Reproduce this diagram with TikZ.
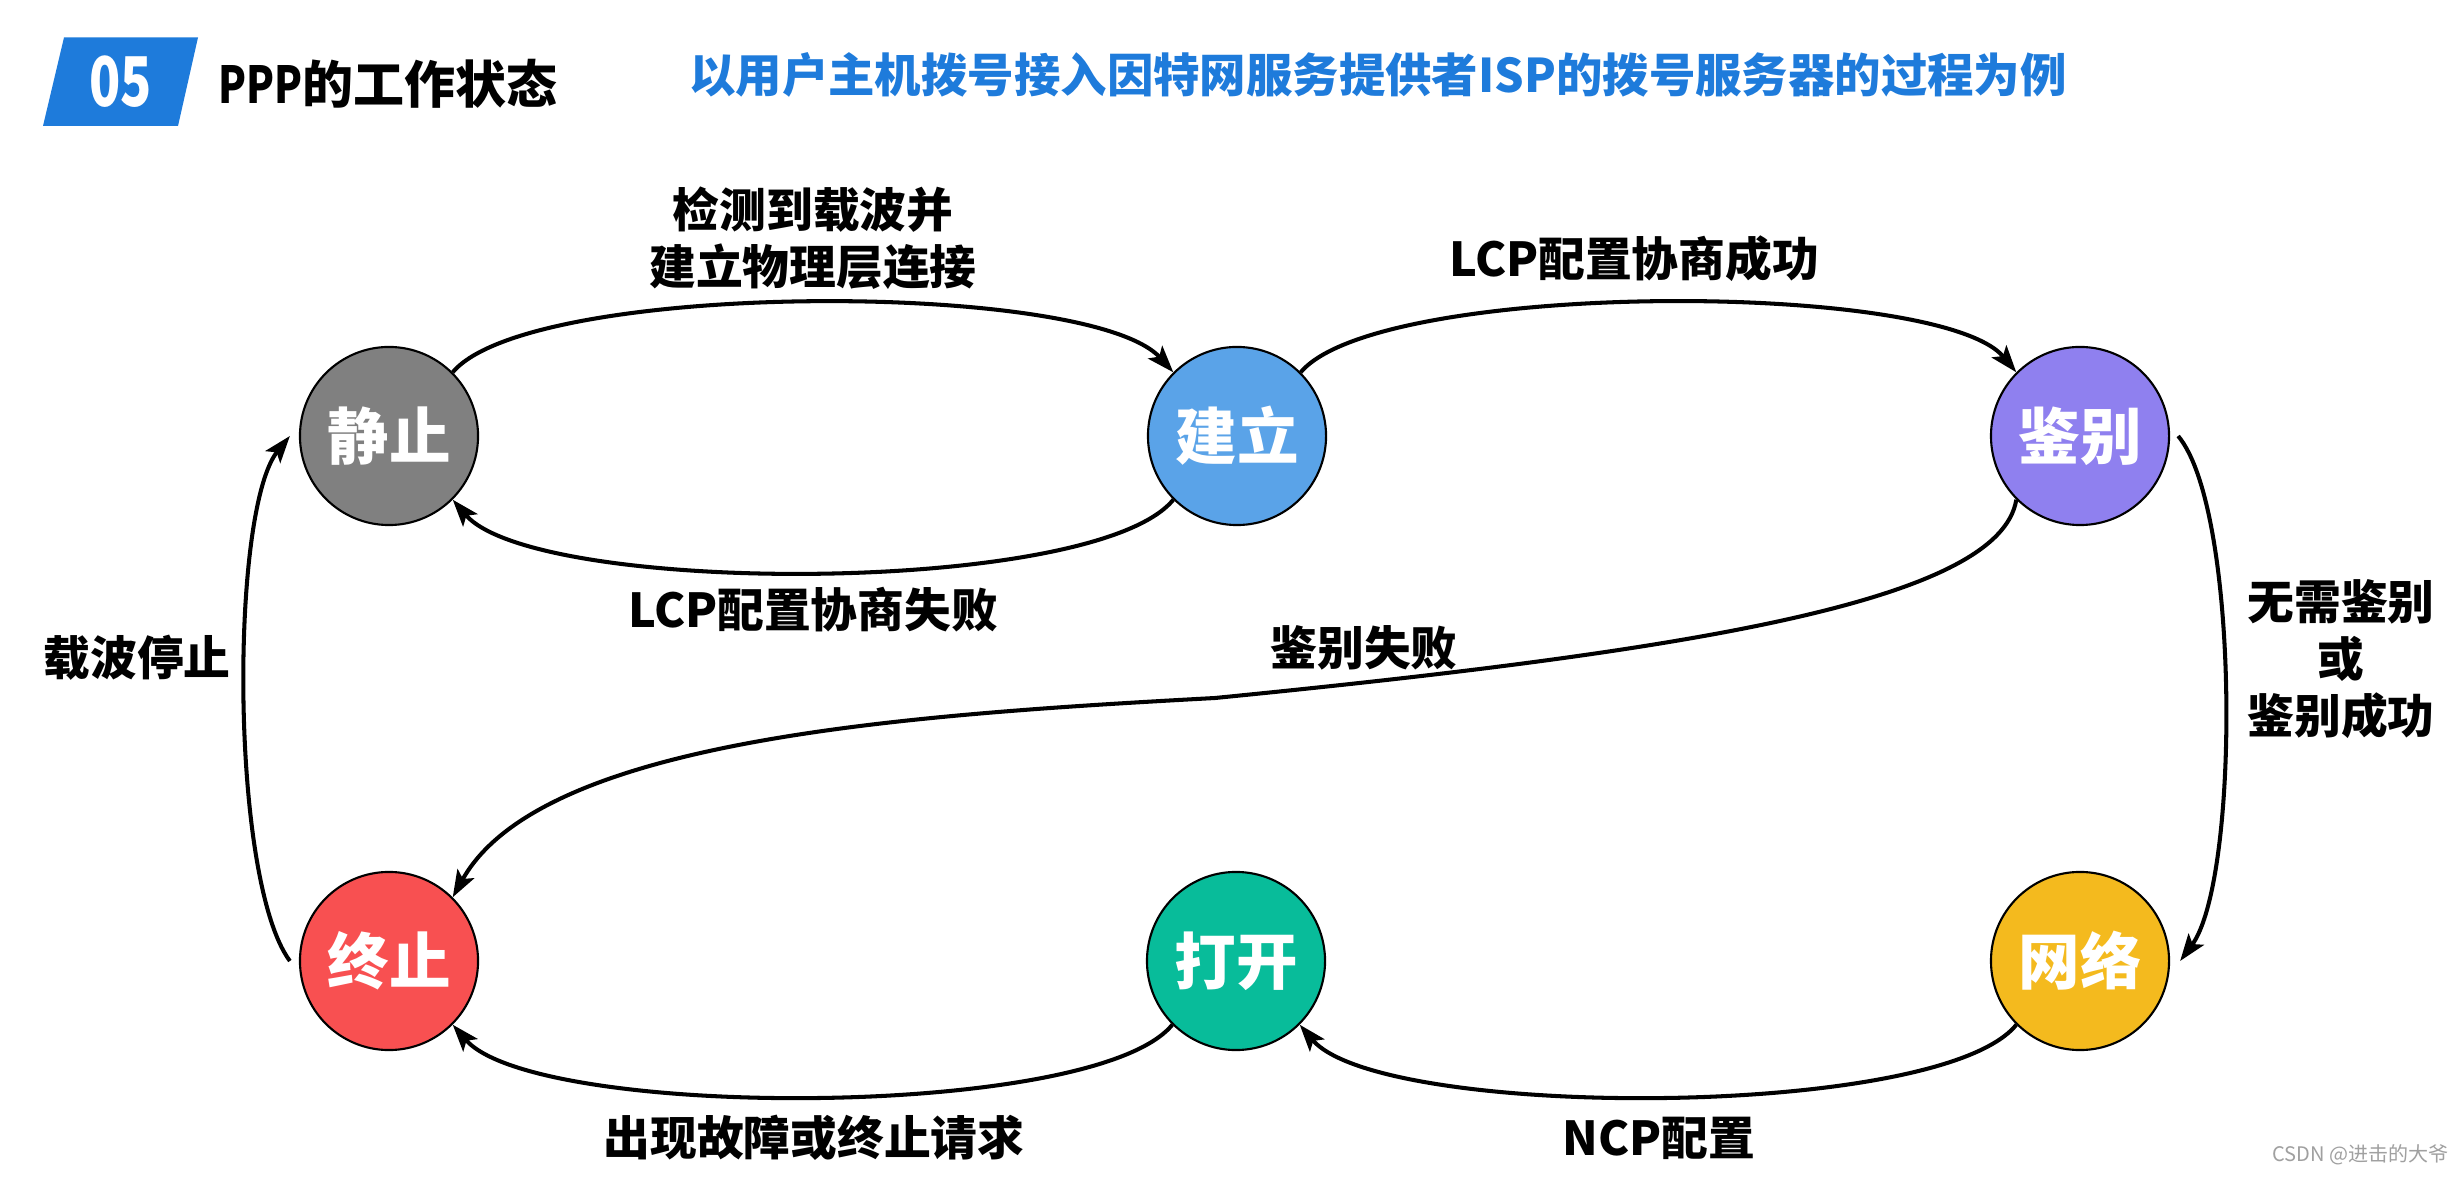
\documentclass[tikz,border=0pt]{standalone}
\usepackage{fontspec}
\setmainfont{Noto Sans CJK SC}
\usetikzlibrary{arrows.meta}
\definecolor{hdrblue}{HTML}{1E7BDB}
\definecolor{cgray}{HTML}{808080}
\definecolor{cblue}{HTML}{5AA3E8}
\definecolor{cpurple}{HTML}{8F80EF}
\definecolor{cred}{HTML}{F85051}
\definecolor{cteal}{HTML}{08BC9A}
\definecolor{cyellow}{HTML}{F4BA1E}
\definecolor{wmgray}{HTML}{A0A0A0}
\begin{document}
\begin{tikzpicture}[x=0.01cm,y=-0.01cm,
  state/.style={circle, draw=black, line width=0.6pt, minimum size=1.78cm, inner sep=0pt,
    text=white, font=\fontsize{17.5}{20}\selectfont\bfseries},
  lab/.style={font=\fontsize{13.3}{16.2}\selectfont\bfseries, align=center, inner sep=0pt},
  arr/.style={line width=1.15pt, -{Stealth[length=0.27cm,width=0.19cm,inset=0.06cm]}}]
\useasboundingbox (0,0) rectangle (2464,1183);
\fill[white] (0,0) rectangle (2464,1183);

% header
\fill[hdrblue] (64,37.5) -- (198,37.5) -- (178,126) -- (43,126) -- cycle;
\node[text=white, inner sep=0pt, font=\fontsize{19.5}{20}\selectfont\bfseries] (num) at (120.5,82) {\scalebox{0.75}[1]{05}};
\node[anchor=west, inner sep=0pt, font=\fontsize{14.5}{16}\selectfont\bfseries] (title) at (218,84) {\scalebox{0.8}[1]{PPP}的工作状态};
\node[inner sep=0pt, text=hdrblue, font=\fontsize{13.2}{16}\selectfont\bfseries] (sub) at (1378,75) {以用户主机拨号接入因特网服务提供者ISP的拨号服务器的过程为例};

% states
\node[state, fill=cgray]   (js) at (389,436) {静止};
\node[state, fill=cblue]   (jl) at (1237,436) {建立};
\node[state, fill=cpurple] (jb) at (2080,436) {鉴别};
\node[state, fill=cred]    (zz) at (389,961) {终止};
\node[state, fill=cteal]   (dk) at (1236,961) {打开};
\node[state, fill=cyellow] (wl) at (2080,961) {网络};

% labels
\node[lab] (l1) at (813,238) {检测到载波并\\建立物理层连接};
\node[lab] (l2) at (1634,259) {LCP配置协商成功};
\node[lab] (l3) at (813,610) {LCP配置协商失败};
\node[lab] (l4) at (1364,648) {鉴别失败};
\node[lab] (l5) at (137,658) {载波停止};
\node[lab] (l6) at (2341,659) {无需鉴别\\或\\鉴别成功};
\node[lab] (l7) at (814,1138) {出现故障或终止请求};
\node[lab] (l8) at (1659,1138) {NCP配置};

% connectors
\coordinate (mid) at (1215,698);
\draw[arr] (js.45) .. controls (530,280) and (1090,280) .. (jl.135);
\draw[arr] (jl.225) .. controls (1095,596) and (535,596) .. (js.-45);
\draw[arr] (jl.45) .. controls (1378,280) and (1940,280) .. (jb.135);
\draw[arr] ([xshift=0.08cm]jb.east) .. controls (2240,510) and (2240,880) .. ([xshift=0.1cm]wl.east);
\draw[arr] (wl.225) .. controls (1940,1120) and (1380,1120) .. (dk.-45);
\draw[arr] (dk.225) .. controls (1095,1120) and (535,1120) .. (zz.-45);
\draw[arr] ([xshift=-0.09cm]zz.west) .. controls (230,880) and (230,510) .. ([xshift=-0.09cm]js.west);
\draw[arr] (jb.225) .. controls (2000,600) and (1700,650) .. (mid) .. controls (900,715) and (540,740) .. (zz.45);

% watermark
\node[anchor=east, inner sep=0pt, text=wmgray, font=\fontsize{5.7}{7}\selectfont] (wm) at (2449,1155) {CSDN @进击的大爷};
\end{tikzpicture}
\end{document}
